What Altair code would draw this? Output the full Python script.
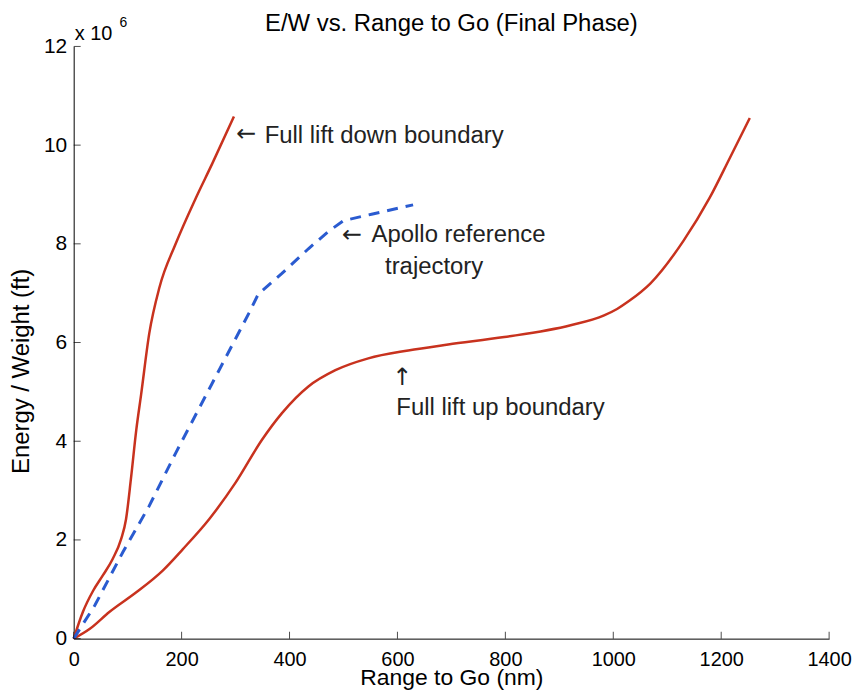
import altair as alt
import pandas as pd

# ---- data (Range to Go in nm, Energy/Weight in 10^6 ft) ----
down_x = [0, 17, 36, 54, 72, 88, 97, 106, 116, 125, 140, 159, 189, 226, 257, 297]
down_y = [0, 0.54, 0.97, 1.28, 1.61, 2.02, 2.42, 3.23, 4.23, 4.95, 6.18, 7.12, 8.0, 8.92, 9.63, 10.58]

up_x = [0, 30, 66, 116, 165, 202, 251, 300, 349, 386, 435, 485, 546, 620, 694, 798, 921,
        983, 1007, 1029, 1069, 1130, 1179, 1216, 1253]
up_y = [0, 0.20, 0.54, 0.94, 1.38, 1.81, 2.42, 3.16, 4.03, 4.57, 5.11, 5.44, 5.68, 5.84,
        5.96, 6.11, 6.35, 6.55, 6.68, 6.84, 7.20, 8.06, 8.94, 9.74, 10.55]

apollo_x = [0, 39, 91, 140, 189, 257, 325, 342, 386, 435, 472, 500, 552, 629]
apollo_y = [0, 0.67, 1.75, 2.69, 3.76, 5.18, 6.6, 6.98, 7.4, 7.9, 8.25, 8.47, 8.6, 8.79]

x_ticks = [0, 200, 400, 600, 800, 1000, 1200, 1400]
y_ticks = [0, 2, 4, 6, 8, 10, 12]

title_text = "E/W vs. Range to Go (Final Phase)"

ann_text = ["Full lift down boundary", "Apollo reference", "trajectory",
            "Full lift up boundary"]
ann_x = [354, 552, 577, 598]
ann_y = [10.05, 8.03, 7.39, 4.54]

arrow_text = ["\u2190", "\u2190", "\u2191"]
arrow_x = [320, 516, 609]
arrow_y = [10.22, 8.17, 5.28]

FONT = "Liberation Sans, Arial, Helvetica, sans-serif"
RED = "#c8321e"
BLUE = "#2a5bd0"
W, H = 759, 595

xscale = alt.Scale(domain=[0, 1400], nice=False, zero=False)
yscale = alt.Scale(domain=[0, 12], nice=False, zero=False)

x_axis = alt.Axis(values=x_ticks, format="d", ticks=False, grid=False, labelFontSize=20,
                  labelFont=FONT, labelColor="black", labelPadding=11, domainColor="black",
                  domainWidth=1, title="Range to Go (nm)", titleFont=FONT, titleFontSize=23,
                  titleFontWeight="normal", titleColor="black", titleBaseline="alphabetic",
                  titleY=46, labelFlush=False)
y_axis = alt.Axis(values=y_ticks, format="d", ticks=False, grid=False, labelFontSize=21,
                  labelFont=FONT, labelColor="black", labelPadding=7, domainColor="black",
                  domainWidth=1, title="Energy / Weight (ft)", titleFont=FONT,
                  titleFontSize=24, titleFontWeight="normal", titleColor="black",
                  titleX=-40, titleY=326, labelFlush=False)

def X(field):
    return alt.X(field, type="quantitative", scale=xscale, axis=x_axis)

def Y(field):
    return alt.Y(field, type="quantitative", scale=yscale, axis=y_axis)

df_down = pd.DataFrame({"range": down_x, "ew": down_y})
df_up = pd.DataFrame({"range": up_x, "ew": up_y})
df_apollo = pd.DataFrame({"range": apollo_x, "ew": apollo_y})
df_ann = pd.DataFrame({"t": ann_text, "range": ann_x, "ew": ann_y})
df_arrow = pd.DataFrame({"t": arrow_text, "range": arrow_x, "ew": arrow_y})
df_xt = pd.DataFrame({"range": x_ticks})
df_yt = pd.DataFrame({"ew": y_ticks})
df_corner = pd.DataFrame({"range": [0], "ew": [12]})
df_title = pd.DataFrame({"range": [700], "ew": [12], "t": [title_text]})

down = alt.Chart(df_down).mark_line(color=RED, strokeWidth=2.5, interpolate="monotone").encode(
    x=X("range"), y=Y("ew"))
up = alt.Chart(df_up).mark_line(color=RED, strokeWidth=2.5, interpolate="monotone").encode(
    x=X("range"), y=Y("ew"))
apollo = alt.Chart(df_apollo).mark_line(color=BLUE, strokeWidth=3, strokeDash=[11, 8]).encode(
    x=X("range"), y=Y("ew"))

ann = alt.Chart(df_ann).mark_text(align="left", baseline="alphabetic", font=FONT,
                                  fontSize=24, color="#222").encode(
    x=X("range"), y=Y("ew"), text="t:N")
arrows = alt.Chart(df_arrow).mark_text(align="center", baseline="middle", font="DejaVu Sans",
                                       fontSize=24, color="#222").encode(
    x=X("range"), y=Y("ew"), text="t:N")

xt = alt.Chart(df_xt).mark_tick(orient="vertical", size=7, thickness=1, color="black").encode(
    x=X("range"), y=alt.value(H - 3.5))
yt = alt.Chart(df_yt).mark_tick(orient="horizontal", size=7, thickness=1, color="black").encode(
    y=Y("ew"), x=alt.value(3.5))

exp_base = alt.Chart(df_corner).mark_text(
    align="left", baseline="alphabetic", font=FONT, fontSize=20, color="black", dx=1, dy=-6.5,
    text="x 10").encode(x=X("range"), y=Y("ew"))
exp_pow = alt.Chart(df_corner).mark_text(
    align="left", baseline="alphabetic", font=FONT, fontSize=14, color="black", dx=46, dy=-20,
    text="6").encode(x=X("range"), y=Y("ew"))

title = alt.Chart(df_title).mark_text(
    align="center", baseline="alphabetic", font=FONT, fontSize=24, color="black",
    dy=-16).encode(x=X("range"), y=Y("ew"), text="t:N")

chart = alt.layer(down, up, apollo, ann, arrows, xt, yt, exp_base, exp_pow, title).properties(
    width=W, height=H,
    background="white",
    padding={"left": 66, "top": 37, "right": 24, "bottom": 50},
    autosize=alt.AutoSizeParams(type="none"),
).configure_view(strokeWidth=0, stroke="transparent")

chart.save("out.html", embed_options={"renderer": "svg", "actions": False})
